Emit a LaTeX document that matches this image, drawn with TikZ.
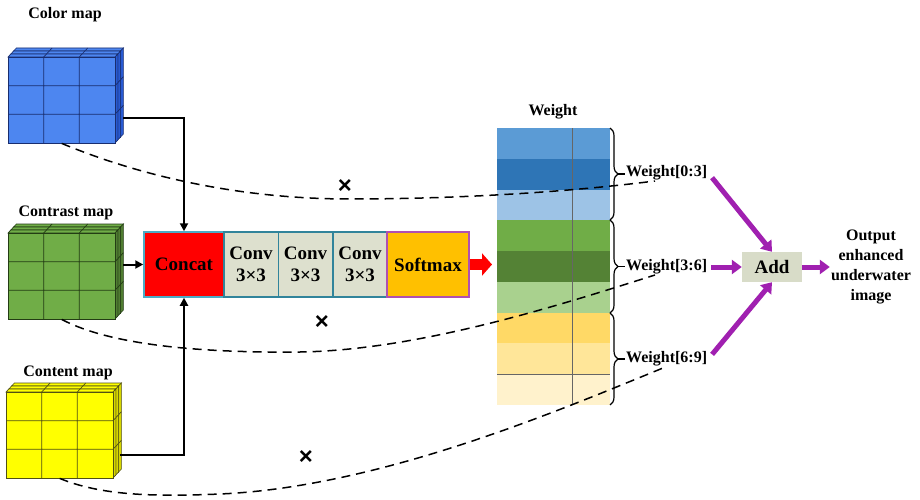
\documentclass[tikz,border=0pt]{standalone}
\usepackage{fontspec}
\setmainfont{Liberation Serif}
\newfontfamily\xsans{Liberation Sans}
\usetikzlibrary{arrows.meta,decorations.pathreplacing,calc}
\definecolor{cblue}{RGB}{77,134,240}
\definecolor{cblueS}{RGB}{40,90,210}
\definecolor{cblueL}{RGB}{25,45,110}
\definecolor{cgreen}{RGB}{112,173,71}
\definecolor{cgreenS}{RGB}{80,125,50}
\definecolor{cgreenL}{RGB}{35,60,20}
\definecolor{cyel}{RGB}{255,255,0}
\definecolor{cyelS}{RGB}{215,215,0}
\definecolor{cyelL}{RGB}{80,80,20}
\definecolor{concatred}{RGB}{255,0,0}
\definecolor{concatbd}{RGB}{75,172,198}
\definecolor{convfill}{RGB}{221,224,206}
\definecolor{convbd}{RGB}{49,132,155}
\definecolor{softfill}{RGB}{255,192,0}
\definecolor{softbd}{RGB}{176,80,176}
\definecolor{addfill}{RGB}{216,220,200}
\definecolor{purp}{RGB}{160,32,176}
\definecolor{wa}{RGB}{91,155,213}
\definecolor{wb}{RGB}{46,117,182}
\definecolor{wc}{RGB}{157,195,230}
\definecolor{wd}{RGB}{112,173,71}
\definecolor{we}{RGB}{84,130,53}
\definecolor{wf}{RGB}{169,209,142}
\definecolor{wg}{RGB}{255,217,102}
\definecolor{wh}{RGB}{255,230,153}
\definecolor{wi}{RGB}{255,242,204}
% #1 x, #2 y (front top-left), #3 front, #4 side, #5 lines
\newcommand{\drawcube}[5]{%
  \foreach \k in {2,1,0}{%
    \begin{scope}[shift={({\k*2.8},{-\k*3})}]
      \filldraw[fill=#3,draw=#5,line width=0.6pt] (#1,#2) -- ++(2.8,-3) -- ++(107,0) -- ++(-2.8,3) -- cycle;
      \filldraw[fill=#4,draw=#5,line width=0.6pt] (#1+107,#2) -- ++(2.8,-3) -- ++(0,86) -- ++(-2.8,3) -- cycle;
      \filldraw[fill=#3,draw=#5,line width=0.7pt] (#1,#2) rectangle ++(107,86);
      \draw[#5,line width=0.7pt] (#1+35.7,#2) -- ++(0,86) (#1+71.3,#2) -- ++(0,86)
        (#1,#2+28.7) -- ++(107,0) (#1,#2+57.3) -- ++(107,0)
        (#1+35.7,#2) -- ++(2.8,-3) (#1+71.3,#2) -- ++(2.8,-3)
        (#1+107,#2+28.7) -- ++(2.8,-3) (#1+107,#2+57.3) -- ++(2.8,-3);
    \end{scope}}%
}
\begin{document}
\begin{tikzpicture}[x=1pt,y=-1pt,
  lbl/.style={font=\fontsize{16}{19}\selectfont\bfseries, inner sep=1pt},
  blk/.style={font=\fontsize{19}{22}\selectfont\bfseries, line width=1.5pt, inner sep=0pt, minimum height=65pt, align=center},
  arr/.style={line width=2pt, -{Triangle[length=8pt,width=8pt]}},
  parr/.style={purp, line width=5pt, -{Triangle[length=10pt,width=14pt]}},
  dsh/.style={line width=1.5pt, dash pattern=on 9pt off 6pt},
  brc/.style={decorate, decoration={brace,amplitude=8pt}, line width=1.2pt},
  xmark/.style={font=\xsans\bfseries\fontsize{24}{24}\selectfont, inner sep=0pt}]
\useasboundingbox (0,0) rectangle (920,500);
\fill[white] (0,0) rectangle (920,500);

% cubes
\drawcube{8}{57}{cblue}{cblueS}{cblueL}
\drawcube{8}{233}{cgreen}{cgreenS}{cgreenL}
\drawcube{6}{392}{cyel}{cyelS}{cyelL}
\node[inner sep=0, minimum width=107pt, minimum height=86pt, anchor=north west] (colorcube) at (8,57) {};
\node[inner sep=0, minimum width=107pt, minimum height=86pt, anchor=north west] (contrastcube) at (8,233) {};
\node[inner sep=0, minimum width=107pt, minimum height=86pt, anchor=north west] (contentcube) at (6,392) {};
\node[lbl] (tcolor) at (65,15) {Color map};
\node[lbl] (tcontrast) at (66,213) {Contrast map};
\node[lbl] (tcontent) at (68,373) {Content map};

% blocks
\node[blk, fill=concatred, draw=concatbd, minimum width=80pt] (concat) at (184,264.5) {Concat};
\node[blk, fill=convfill, draw=convbd, minimum width=54.5pt] (conv1) at (251,264.5) {Conv\\3×3};
\node[blk, fill=convfill, draw=convbd, minimum width=54.5pt] (conv2) at (305.5,264.5) {Conv\\3×3};
\node[blk, fill=convfill, draw=convbd, minimum width=54.5pt] (conv3) at (360,264.5) {Conv\\3×3};
\node[blk, fill=softfill, draw=softbd, minimum width=82pt] (soft) at (428,264.5) {Softmax};

% cube connectors
\coordinate (cA) at (123,118);
\coordinate (cB) at (123,264.5);
\coordinate (cC) at (120,455);
\draw[arr] (cA) -| (concat.north);
\draw[arr] (cB) -- (concat.west);
\draw[arr] (cC) -| (concat.south);

% weight column
\foreach \i/\c in {0/wa,1/wb,2/wc,3/wd,4/we,5/wf,6/wg,7/wh,8/wi}
  \fill[\c] (497,{128+\i*30.78}) rectangle (610,{128+(\i+1)*30.78});
\draw[gray!80!black, line width=0.8pt] (572,128) -- (572,405);
\draw[gray!80!black, line width=0.8pt] (497,374.2) -- (610,374.2);
\node[inner sep=0, minimum width=113pt, minimum height=277pt, anchor=north west] (wcol) at (497,128) {};
\node[lbl] (wtitle) at (553,112) {Weight};

\draw[red, line width=11pt, -{Triangle[length=10pt,width=22pt]}, shorten >=5pt] (soft.east) -- (wcol.west |- soft.east);

% braces
\draw[brc] (610,128) -- (610,220);
\draw[brc] (610,220) -- (610,313);
\draw[brc] (610,313) -- (610,405);
\coordinate (b1) at (618,174);
\coordinate (b2) at (618,266.5);
\coordinate (b3) at (618,359);
\node[lbl, anchor=west] (wl1) at (625,173) {Weight[0:3]};
\node[lbl, anchor=west] (wl2) at (625,267) {Weight[3:6]};
\node[lbl, anchor=west] (wl3) at (625,359) {Weight[6:9]};
\draw[line width=1.2pt] (b1) -- (b1 -| wl1.west);
\draw[line width=1.2pt] (b2) -- (b2 -| wl2.west);
\draw[line width=1.2pt] (b3) -- (b3 -| wl3.west);

% add and output
\node[font=\fontsize{19}{22}\selectfont\bfseries, fill=addfill, minimum width=60pt, minimum height=30pt, inner sep=0pt] (add) at (772,267) {Add};
\node[lbl, align=center, font=\fontsize{16}{20}\selectfont\bfseries] (out) at (871,267) {Output\\enhanced\\underwater\\image};
\draw[parr, shorten <=6pt] (wl1.east) -- (add.north);
\draw[parr, shorten <=3pt] (wl2.east) -- (add.west);
\draw[parr, shorten <=6pt] (wl3.east) -- (add.south);
\draw[parr] (add.east) -- (out.west);

% dashed paths
\coordinate (e1) at (655,181);
\coordinate (e2) at (655,275);
\coordinate (e3) at (663,368);
\draw[dsh] (colorcube.south) .. controls (150,180) and (250,199) .. (350,199) .. controls (450,199) and (560,193) .. (e1);
\draw[dsh] (contrastcube.south) .. controls (110,345) and (200,353) .. (300,352) .. controls (420,350) and (560,305) .. (e2);
\draw[dsh] (contentcube.south) .. controls (100,495) and (150,497) .. (220,494) .. controls (380,487) and (560,410) .. (e3);

\node[xmark] (x1) at (345,187) {×};
\node[xmark] (x2) at (322,323) {×};
\node[xmark] (x3) at (306,457) {×};
\end{tikzpicture}
\end{document}
